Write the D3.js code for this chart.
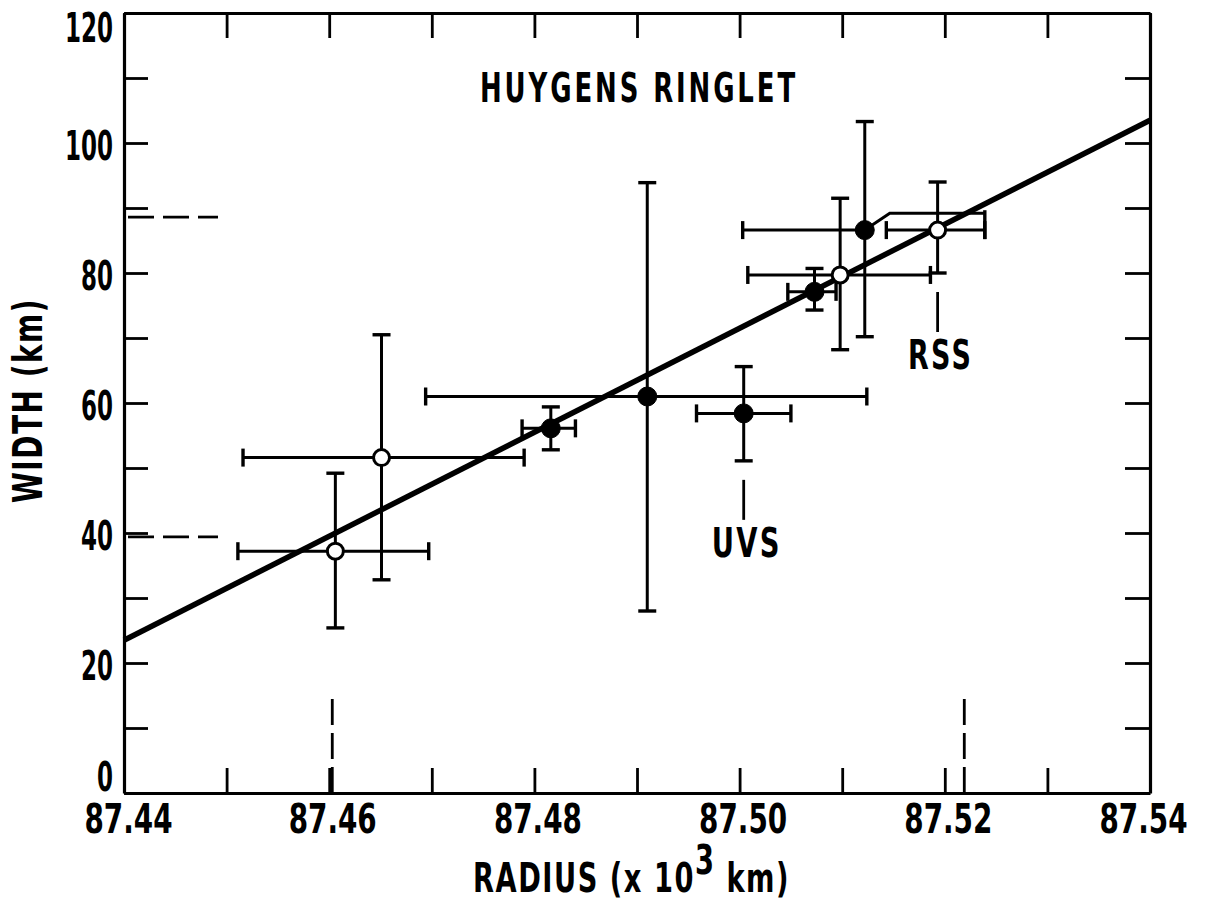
<!DOCTYPE html>
<html>
<head>
<meta charset="utf-8">
<script src="https://cdn.jsdelivr.net/npm/d3@7"></script>
<style>
  body { margin: 0; background: #fff; }
  svg text { font-family: "Liberation Sans Narrow", "DejaVu Sans Condensed", sans-serif; font-weight: bold; font-size: 40px; fill: #000; }
</style>
</head>
<body>
<div id="chart"></div>
<script>
// measurements (radius in 10^3 km, width in km)
var radius   = [87.4606, 87.4651, 87.4816, 87.4910, 87.5004, 87.5073, 87.5098, 87.5122, 87.5193];
var radiusLo = [87.4511, 87.4516, 87.4788, 87.4694, 87.4958, 87.5047, 87.5008, 87.5003, 87.5143];
var radiusHi = [87.4697, 87.4790, 87.4840, 87.5124, 87.5050, 87.5094, 87.5186, 87.5239, 87.5239];
var width    = [37.2, 51.6, 56.1, 61.0, 58.4, 77.1, 79.7, 86.6, 86.6];
var widthLo  = [25.4, 32.8, 52.8, 28.0, 51.1, 74.3, 68.2, 70.2, 80.0];
var widthHi  = [49.2, 70.5, 59.4, 93.9, 65.6, 80.7, 91.5, 103.3, 94.0];
var isOpen   = [true, true, false, false, false, false, true, false, true];
var liftedArm = [false, false, false, false, false, false, false, true, false];

// fitted line
var fitRadius = [87.44, 87.54];
var fitWidth  = [23.5, 103.5];

// ringlet extremes (dashed markers)
var refWidths = [88.6, 39.4];
var refRadii  = [87.4603, 87.5219];

// instrument labels: text and the point they hang under
var labelText  = ["UVS", "RSS"];
var labelPoint = [4, 8];

var xTicks = [87.44, 87.45, 87.46, 87.47, 87.48, 87.49, 87.50, 87.51, 87.52, 87.53, 87.54];
var yTicks = [0, 10, 20, 30, 40, 50, 60, 70, 80, 90, 100, 110, 120];

var svg = d3.select("#chart").append("svg")
    .attr("width", 1207)
    .attr("height", 910);

var x = d3.scaleLinear().domain([87.44, 87.54]).range([124, 1150]);
var y = d3.scaleLinear().domain([0, 120]).range([793, 13]);

var fmt = d3.format(".2f");

// squeeze a text to a given width (the lettering is very narrow)
function squeeze(sel, w) {
    sel.attr("textLength", w).attr("lengthAdjust", "spacingAndGlyphs");
}

function styleAxis(g) {
    g.attr("font-size", null).attr("font-family", null);
    g.select(".domain").attr("stroke-width", 3.2);
    g.selectAll(".tick line").attr("stroke-width", 2.8);
}

var bottom = svg.append("g")
    .attr("transform", "translate(0," + y(0) + ")")
    .call(d3.axisBottom(x).tickValues(xTicks).tickSize(-25).tickSizeOuter(0).tickPadding(12)
        .tickFormat(function (d, i) { return i % 2 === 0 ? fmt(d) : ""; }))
    .call(styleAxis);
bottom.selectAll(".tick text")
    .filter(function (d, i) { return i % 2 === 0; })
    .attr("x", function (d, i) { return i === 5 ? -7 : i === 0 ? 4 : 3; })
    .call(squeeze, 88);

svg.append("g")
    .attr("transform", "translate(0," + y(120) + ")")
    .call(d3.axisTop(x).tickValues(xTicks).tickSize(-25).tickSizeOuter(0).tickFormat(""))
    .call(styleAxis);

var left = svg.append("g")
    .attr("transform", "translate(" + x(87.44) + ",0)")
    .call(d3.axisLeft(y).tickValues(yTicks).tickSize(-24).tickSizeOuter(0).tickPadding(11)
        .tickFormat(function (d) { return d % 20 === 0 ? d : ""; }))
    .call(styleAxis);
left.selectAll(".tick text")
    .filter(function (d) { return d % 20 === 0; })
    .attr("dy", function (d) { return d === 120 ? "0.72em" : d === 0 ? "-0.06em" : "0.42em"; })
    .each(function (d) { squeeze(d3.select(this), String(d).length * 16); });

svg.append("g")
    .attr("transform", "translate(" + x(87.54) + ",0)")
    .call(d3.axisRight(y).tickValues(yTicks).tickSize(-25).tickSizeOuter(0).tickFormat(""))
    .call(styleAxis);

// dashed extremes
svg.selectAll(".refh").data(refWidths).enter().append("line")
    .attr("x1", x(87.44) + 4).attr("x2", x(87.44) + 94)
    .attr("y1", function (d) { return y(d); }).attr("y2", function (d) { return y(d); })
    .attr("stroke", "#000").attr("stroke-width", 2.8).attr("stroke-dasharray", "26,9");

svg.selectAll(".refv").data(refRadii).enter().append("line")
    .attr("x1", function (d) { return x(d); }).attr("x2", function (d) { return x(d); })
    .attr("y1", y(0)).attr("y2", y(0) - 96)
    .attr("stroke", "#000").attr("stroke-width", 2.8).attr("stroke-dasharray", "26,8");

// fitted line
svg.append("line")
    .attr("x1", x(fitRadius[0])).attr("y1", y(fitWidth[0]))
    .attr("x2", x(fitRadius[1])).attr("y2", y(fitWidth[1]))
    .attr("stroke", "#000").attr("stroke-width", 5.5);

// error bars
var cap = 9;
var eb = svg.append("g").attr("stroke", "#000").attr("stroke-width", 3).attr("fill", "none");
radius.forEach(function (r, i) {
    var cx = x(r), cy = y(width[i]);
    var xl = x(radiusLo[i]), xr = x(radiusHi[i]);
    var yt = y(widthHi[i]), yb = y(widthLo[i]);
    eb.append("line").attr("x1", cx).attr("x2", cx).attr("y1", yt).attr("y2", yb);
    eb.append("line").attr("x1", cx - cap).attr("x2", cx + cap).attr("y1", yt).attr("y2", yt).attr("stroke-width", 3.4);
    eb.append("line").attr("x1", cx - cap).attr("x2", cx + cap).attr("y1", yb).attr("y2", yb).attr("stroke-width", 3.4);
    eb.append("line").attr("x1", xl).attr("x2", liftedArm[i] ? cx : xr).attr("y1", cy).attr("y2", cy);
    eb.append("line").attr("x1", xl).attr("x2", xl).attr("y1", cy - cap).attr("y2", cy + cap).attr("stroke-width", 3.4);
    if (liftedArm[i]) {
        // right arm drawn above the neighbouring bar
        var ly = y(width[i] + 2.6);
        eb.append("path")
            .attr("d", "M" + cx + "," + cy + "L" + (cx + 25) + "," + ly + "L" + xr + "," + ly);
        eb.append("line").attr("x1", xr).attr("x2", xr).attr("y1", ly - 3).attr("y2", cy + cap).attr("stroke-width", 3.4);
    } else {
        eb.append("line").attr("x1", xr).attr("x2", xr).attr("y1", cy - cap).attr("y2", cy + cap).attr("stroke-width", 3.4);
    }
});

// markers
svg.selectAll(".pt").data(radius).enter().append("circle")
    .attr("cx", function (d) { return x(d); })
    .attr("cy", function (d, i) { return y(width[i]); })
    .attr("r", function (d, i) { return isOpen[i] ? 8 : 9.5; })
    .attr("fill", function (d, i) { return isOpen[i] ? "#fff" : "#000"; })
    .attr("stroke", "#000")
    .attr("stroke-width", function (d, i) { return isOpen[i] ? 3 : 1; });

// instrument labels
var labelW = [70, 65];
labelText.forEach(function (t, k) {
    var i = labelPoint[k];
    var px = x(radius[i]), top = y(widthLo[i]) + 19;
    svg.append("line").attr("x1", px).attr("x2", px).attr("y1", top).attr("y2", top + 40)
        .attr("stroke", "#000").attr("stroke-width", 2.8);
    svg.append("text").attr("x", px + 3 - labelW[k] / 2).attr("y", top + 77)
        .attr("letter-spacing", 3)
        .call(squeeze, labelW[k]).text(t);
});

// title
svg.append("text").attr("x", 480).attr("y", 102)
    .attr("letter-spacing", 4)
    .call(squeeze, 318)
    .text("HUYGENS RINGLET");

// axis titles
svg.append("text")
    .attr("transform", "translate(42,503) rotate(-90)")
    .attr("letter-spacing", 2)
    .call(squeeze, 205)
    .text("WIDTH (km)");

var xt = svg.append("text").attr("x", 473).attr("y", 892).attr("letter-spacing", 2).call(squeeze, 317);
xt.append("tspan").text("RADIUS (x 10");
xt.append("tspan").attr("dy", -18).text("3");
xt.append("tspan").attr("dy", 18).text(" km)");
</script>
</body>
</html>
